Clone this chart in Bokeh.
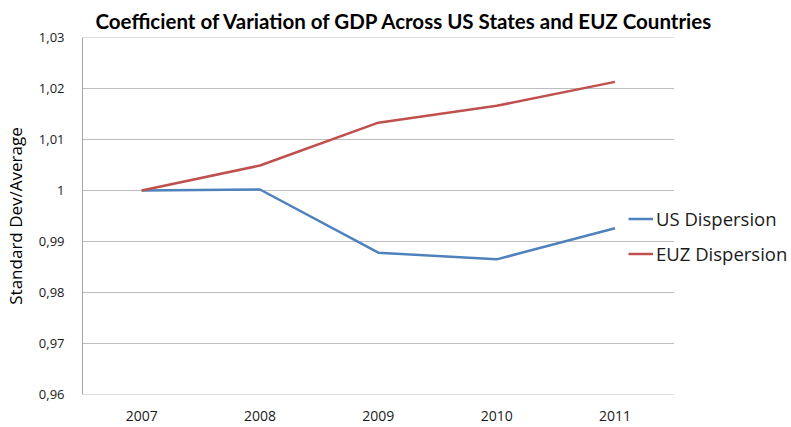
from bokeh.plotting import figure
from bokeh.models import FixedTicker, CustomJSTickFormatter, Legend, LegendItem, Range1d
from bokeh.embed import file_html
from bokeh.resources import INLINE

years = ["2007", "2008", "2009", "2010", "2011"]
us_dispersion = [1.0, 1.0002, 0.9878, 0.9865, 0.9926]
euz_dispersion = [1.0, 1.0049, 1.0133, 1.0166, 1.0213]
y_ticks = [0.96, 0.97, 0.98, 0.99, 1.0, 1.01, 1.02, 1.03]

xs = list(range(len(years)))
x_lo = -0.5
x_hi = len(years) - 0.5

p = figure(width=791, height=427, x_range=Range1d(x_lo, x_lo + 718 / 120), y_range=Range1d(0.96, 1.03),
           output_backend="svg", toolbar_location=None,
           min_border_left=72, min_border_right=1, min_border_top=37, min_border_bottom=33)
p.title.text = "Coefficient of Variation of GDP Across US States and EUZ Countries"
p.title.text_font = "Lato"
p.title.text_font_style = "bold"
p.title.text_font_size = "20.5px"
p.title.text_color = "#000000"
p.title.align = "left"
p.title.offset = 13
p.outline_line_color = None

p.xgrid.grid_line_color = None
p.ygrid.grid_line_color = None
p.segment(x0=[x_lo] * len(y_ticks), x1=[x_hi] * len(y_ticks), y0=y_ticks, y1=y_ticks,
          line_color="#BEBEBE", line_width=1)

r_us = p.line(xs, us_dispersion, line_color="#4F81BD", line_width=2.5)
r_euz = p.line(xs, euz_dispersion, line_color="#C0504D", line_width=2.5)

p.yaxis.ticker = FixedTicker(ticks=y_ticks)
p.yaxis.formatter = CustomJSTickFormatter(code="""
var s = (Math.round(tick*100)/100).toString();
return s.replace('.', ',');
""")
p.yaxis.axis_label = "Standard Dev/Average"
p.yaxis.axis_label_text_font = "Open Sans"
p.yaxis.axis_label_text_font_style = "normal"
p.yaxis.axis_label_text_font_size = "17px"
p.yaxis.axis_label_text_color = "#000000"
p.yaxis.axis_label_standoff = 9

p.xaxis.ticker = FixedTicker(ticks=xs)
p.xaxis.major_label_overrides = {i: y for i, y in enumerate(years)}

for ax in (p.xaxis[0], p.yaxis[0]):
    ax.axis_line_color = "#A6A6A6"
    ax.axis_line_width = 1
    ax.major_tick_line_color = None
    ax.minor_tick_line_color = None
    ax.major_label_text_font = "Open Sans"
    ax.major_label_text_color = "#1a1a1a"
p.xaxis.axis_line_color = None

p.yaxis.major_label_text_font_size = "13px"
p.yaxis.major_label_standoff = 12
p.xaxis.major_label_text_font_size = "14px"
p.xaxis.major_label_standoff = 10

legend = Legend(items=[LegendItem(label="US Dispersion", renderers=[r_us]),
                       LegendItem(label="EUZ Dispersion", renderers=[r_euz])],
                location=(546, 128), orientation="vertical",
                background_fill_alpha=0, border_line_color=None,
                padding=0, margin=0, spacing=10,
                glyph_width=25, glyph_height=25, label_height=25,
                label_standoff=3,
                label_text_font="Open Sans", label_text_font_size="18.5px",
                label_text_color="#1a1a1a")
p.add_layout(legend, "center")

open("out.html", "w").write(file_html(p, INLINE))
